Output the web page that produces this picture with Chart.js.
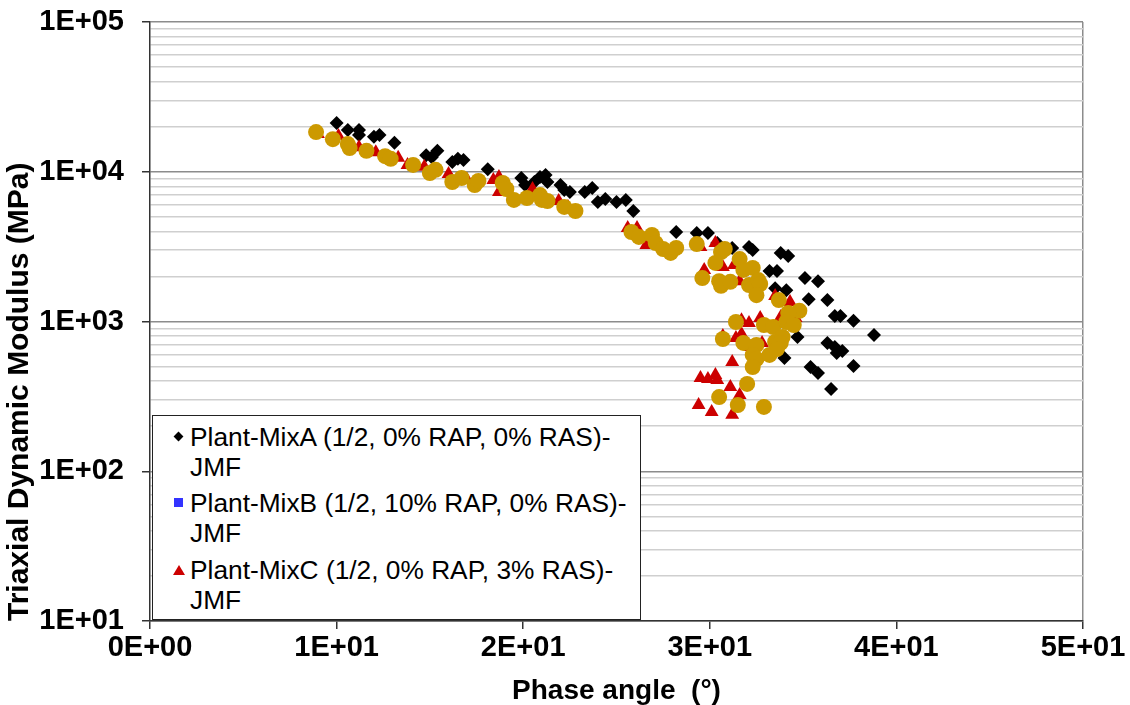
<!DOCTYPE html>
<html>
<head>
<meta charset="utf-8">
<script src="https://cdn.jsdelivr.net/npm/chart.js@4.4.1/dist/chart.umd.min.js"></script>
<style>
  body { margin: 0; background: #fff; }
  #wrap { position: relative; width: 1130px; height: 705px; }
  #legend {
    position: absolute; left: 152px; top: 415px; width: 487px; height: 203px;
    background: #fff; border: 1.5px solid #222;
    font-family: "Liberation Sans", Arial, sans-serif; font-size: 26.3px; color: #000;
  }
  .item { position: absolute; left: 37px; line-height: 30px; white-space: nowrap; }
  .mark { position: absolute; }
  .diamond { width: 7px; height: 7px; background: #000; transform: rotate(45deg); }
  .square { width: 9px; height: 9px; background: #3333ff; }
  .tri { width: 0; height: 0; border-left: 6px solid transparent; border-right: 6px solid transparent; border-bottom: 10px solid #cc0000; }
</style>
</head>
<body>
<div id="wrap">
  <canvas id="chart" width="1130" height="705"></canvas>
  <div id="legend">
    <div class="mark diamond" style="left:22px; top:17px;"></div>
    <div class="item" style="top:6px;">Plant-MixA (1/2, 0% RAP, 0% RAS)-<br>JMF</div>
    <div class="mark square" style="left:21px; top:82px;"></div>
    <div class="item" style="top:72px;">Plant-MixB (1/2, 10% RAP, 0% RAS)-<br>JMF</div>
    <div class="mark tri" style="left:20px; top:149px;"></div>
    <div class="item" style="top:139px;">Plant-MixC (1/2, 0% RAP, 3% RAS)-<br>JMF</div>
  </div>
</div>
<script>
// phase angle (deg) and modulus (MPa)
let mixA_phase = [10.0, 10.6, 11.2, 11.2, 12.0, 12.3, 13.1, 14.8, 15.4, 15.1, 16.2, 16.5, 16.8, 18.1, 19.9, 20.1, 20.6, 20.9, 21.2, 21.3, 22.0, 22.2, 22.5, 23.3, 23.7, 24.0, 24.4, 25.0, 25.5, 25.9, 28.2, 29.3, 29.9, 30.4, 31.2, 32.1, 32.3, 33.8, 34.2, 33.2, 33.6, 33.5, 34.1, 32.5, 35.1, 35.8, 35.3, 36.3, 36.7, 37.0, 37.7, 38.8, 34.7, 36.3, 36.7, 36.8, 37.1, 34.0, 35.4, 35.8, 37.7, 36.5];
let mixA_modulus = [21200, 19000, 19000, 17600, 17100, 17600, 15600, 12900, 13800, 12500, 11600, 12200, 12000, 10400, 9080, 8150, 8540, 9230, 9510, 8540, 8150, 7550, 7320, 7320, 7790, 6280, 6580, 6280, 6480, 5470, 3960, 3900, 3900, 3340, 3100, 3140, 3000, 2870, 2740, 2170, 2170, 1670, 1620, 1700, 1950, 1860, 1410, 1390, 1090, 1090, 1010, 812, 788, 719, 676, 616, 635, 571, 497, 453, 505, 354];

let mixB_phase = [];
let mixB_modulus = [];

let mixC_phase = [9.0, 10.1, 11.2, 12.1, 13.3, 13.8, 14.7, 16.0, 17.0, 18.4, 18.7, 18.7, 20.5, 21.9, 22.4, 25.6, 26.1, 26.6, 27.2, 29.5, 30.3, 29.7, 30.7, 31.3, 31.6, 33.5, 34.3, 31.7, 32.1, 32.7, 33.8, 34.6, 30.7, 31.4, 31.7, 32.8, 32.2, 31.2, 29.5, 29.9, 30.3, 30.4, 31.1, 31.6, 29.4, 30.1, 31.2];
let mixC_modulus = [17900, 17300, 14600, 13500, 12400, 11100, 10800, 9660, 8810, 8810, 9230, 7320, 7670, 6380, 5820, 4210, 4210, 3240, 3400, 3140, 3340, 2210, 2310, 2380, 1860, 1480, 1350, 1020, 977, 1055, 1070, 1055, 800, 776, 825, 719, 676, 536, 420, 413, 439, 407, 365, 323, 277, 249, 238];

let mixD_phase = [8.9, 9.8, 10.6, 10.7, 11.6, 12.6, 12.9, 14.1, 15.0, 15.3, 16.2, 16.7, 17.4, 17.6, 18.9, 19.1, 19.5, 20.2, 20.9, 21.0, 21.3, 22.2, 22.8, 25.8, 26.2, 26.9, 27.1, 27.5, 27.9, 28.2, 29.3, 30.6, 30.8, 30.3, 31.6, 31.8, 32.3, 29.6, 30.5, 30.6, 31.1, 32.1, 32.6, 32.7, 32.5, 33.7, 34.8, 34.2, 31.4, 32.9, 33.4, 34.1, 34.5, 30.7, 31.8, 32.5, 33.5, 33.9, 33.8, 32.3, 32.5, 33.2, 33.6, 32.3, 32.0, 30.5, 31.5, 32.9];
let mixD_modulus = [18400, 16500, 15300, 14400, 13800, 12700, 12200, 11100, 9810, 10300, 8540, 9080, 8150, 8680, 8410, 7670, 6480, 6680, 6990, 6480, 6380, 5820, 5470, 3960, 3670, 3780, 3340, 3050, 2870, 3100, 3290, 2910, 3050, 2460, 2610, 2210, 2280, 1950, 1860, 1730, 1840, 1750, 1890, 1780, 1500, 1390, 1180, 1140, 992, 948, 919, 992, 948, 764, 719, 697, 730, 788, 719, 598, 562, 598, 655, 497, 383, 313, 277, 269];

let xTickValues = [0, 10, 20, 30, 40, 50];
let xTickLabels = ["0E+00", "1E+01", "2E+01", "3E+01", "4E+01", "5E+01"];
let yTickValues = [10, 100, 1000, 10000, 100000];
let yTickLabels = ["1E+01", "1E+02", "1E+03", "1E+04", "1E+05"];
let yMinorSteps = [2, 3, 4, 5, 6, 7, 8, 9];

function points(xs, ys) {
    return xs.map((x, i) => { return { x: x, y: ys[i] } });
}

let font = "'Liberation Sans', Arial, sans-serif";

new Chart(document.getElementById("chart"), {
    type: "scatter",
    data: {
        datasets: [
            { label: "Plant-MixA (1/2, 0% RAP, 0% RAS)-JMF", data: points(mixA_phase, mixA_modulus),
              pointStyle: "rectRot", pointRadius: 7, backgroundColor: "#000000", borderWidth: 0, order: 4 },
            { label: "Plant-MixB (1/2, 10% RAP, 0% RAS)-JMF", data: points(mixB_phase, mixB_modulus),
              pointStyle: "rect", pointRadius: 7, backgroundColor: "#3333ff", borderWidth: 0, order: 3 },
            { label: "Plant-MixC (1/2, 0% RAP, 3% RAS)-JMF", data: points(mixC_phase, mixC_modulus),
              pointStyle: "triangle", pointRadius: 8, backgroundColor: "#cc0000", borderWidth: 0, order: 2 },
            { label: "Plant-MixD", data: points(mixD_phase, mixD_modulus),
              pointStyle: "circle", pointRadius: 8, backgroundColor: "#cc9900", borderWidth: 0, order: 1 }
        ]
    },
    options: {
        responsive: false,
        animation: false,
        layout: { padding: { top: 22, right: 47, left: 0, bottom: 0 } },
        plugins: {
            legend: { display: false },
            tooltip: { enabled: false }
        },
        scales: {
            x: {
                type: "linear",
                min: 0,
                max: 50,
                afterFit: (s) => { s.height = 84; s.paddingLeft = 0; s.paddingRight = 0; },
                afterBuildTicks: (s) => { s.ticks = xTickValues.map((v) => { return { value: v } }); },
                ticks: {
                    autoSkip: false,
                    maxRotation: 0,
                    padding: 2,
                    color: "#000",
                    font: { family: font, size: 29, weight: "bold" },
                    callback: (v) => { let i = xTickValues.indexOf(v); return i >= 0 ? xTickLabels[i] : ""; }
                },
                grid: {
                    color: (c) => c.tick && c.tick.value == 50 ? "#8c8c8c" : "rgba(0,0,0,0)",
                    tickColor: "#333",
                    tickLength: 8,
                    lineWidth: 1.5
                },
                border: { color: "#333", width: 1.5 },
                title: {
                    display: true,
                    text: "Phase angle  (°)",
                    color: "#000",
                    padding: { top: 0, bottom: -3 },
                    font: { family: font, size: 28, weight: "bold" }
                }
            },
            y: {
                type: "logarithmic",
                min: 10,
                max: 100000,
                afterFit: (s) => { s.width = 150; s.paddingTop = 0; s.paddingBottom = 0; },
                afterBuildTicks: (s) => {
                    let ticks = [];
                    yTickValues.forEach((d, k) => {
                        ticks.push({ value: d, major: true });
                        if (k < yTickValues.length - 1) {
                            yMinorSteps.forEach((m) => { ticks.push({ value: d * m, major: false }); });
                        }
                    });
                    s.ticks = ticks;
                },
                ticks: {
                    autoSkip: false,
                    padding: 18,
                    color: "#000",
                    font: { family: font, size: 29, weight: "bold" },
                    callback: (v) => { let i = yTickValues.indexOf(v); return i >= 0 ? yTickLabels[i] : ""; }
                },
                grid: {
                    color: (c) => c.tick && c.tick.major ? "#8c8c8c" : "#cfcfcf",
                    tickColor: (c) => c.tick && c.tick.major ? "#333" : "rgba(0,0,0,0)",
                    tickLength: 8,
                    lineWidth: 1.5
                },
                border: { color: "#333", width: 1.5 },
                title: {
                    display: true,
                    text: "Triaxial Dynamic Modulus (MPa)",
                    align: "start",
                    color: "#000",
                    padding: { top: 2, bottom: 0 },
                    font: { family: font, size: 30, weight: "bold" }
                }
            }
        }
    }
});
</script>
</body>
</html>
